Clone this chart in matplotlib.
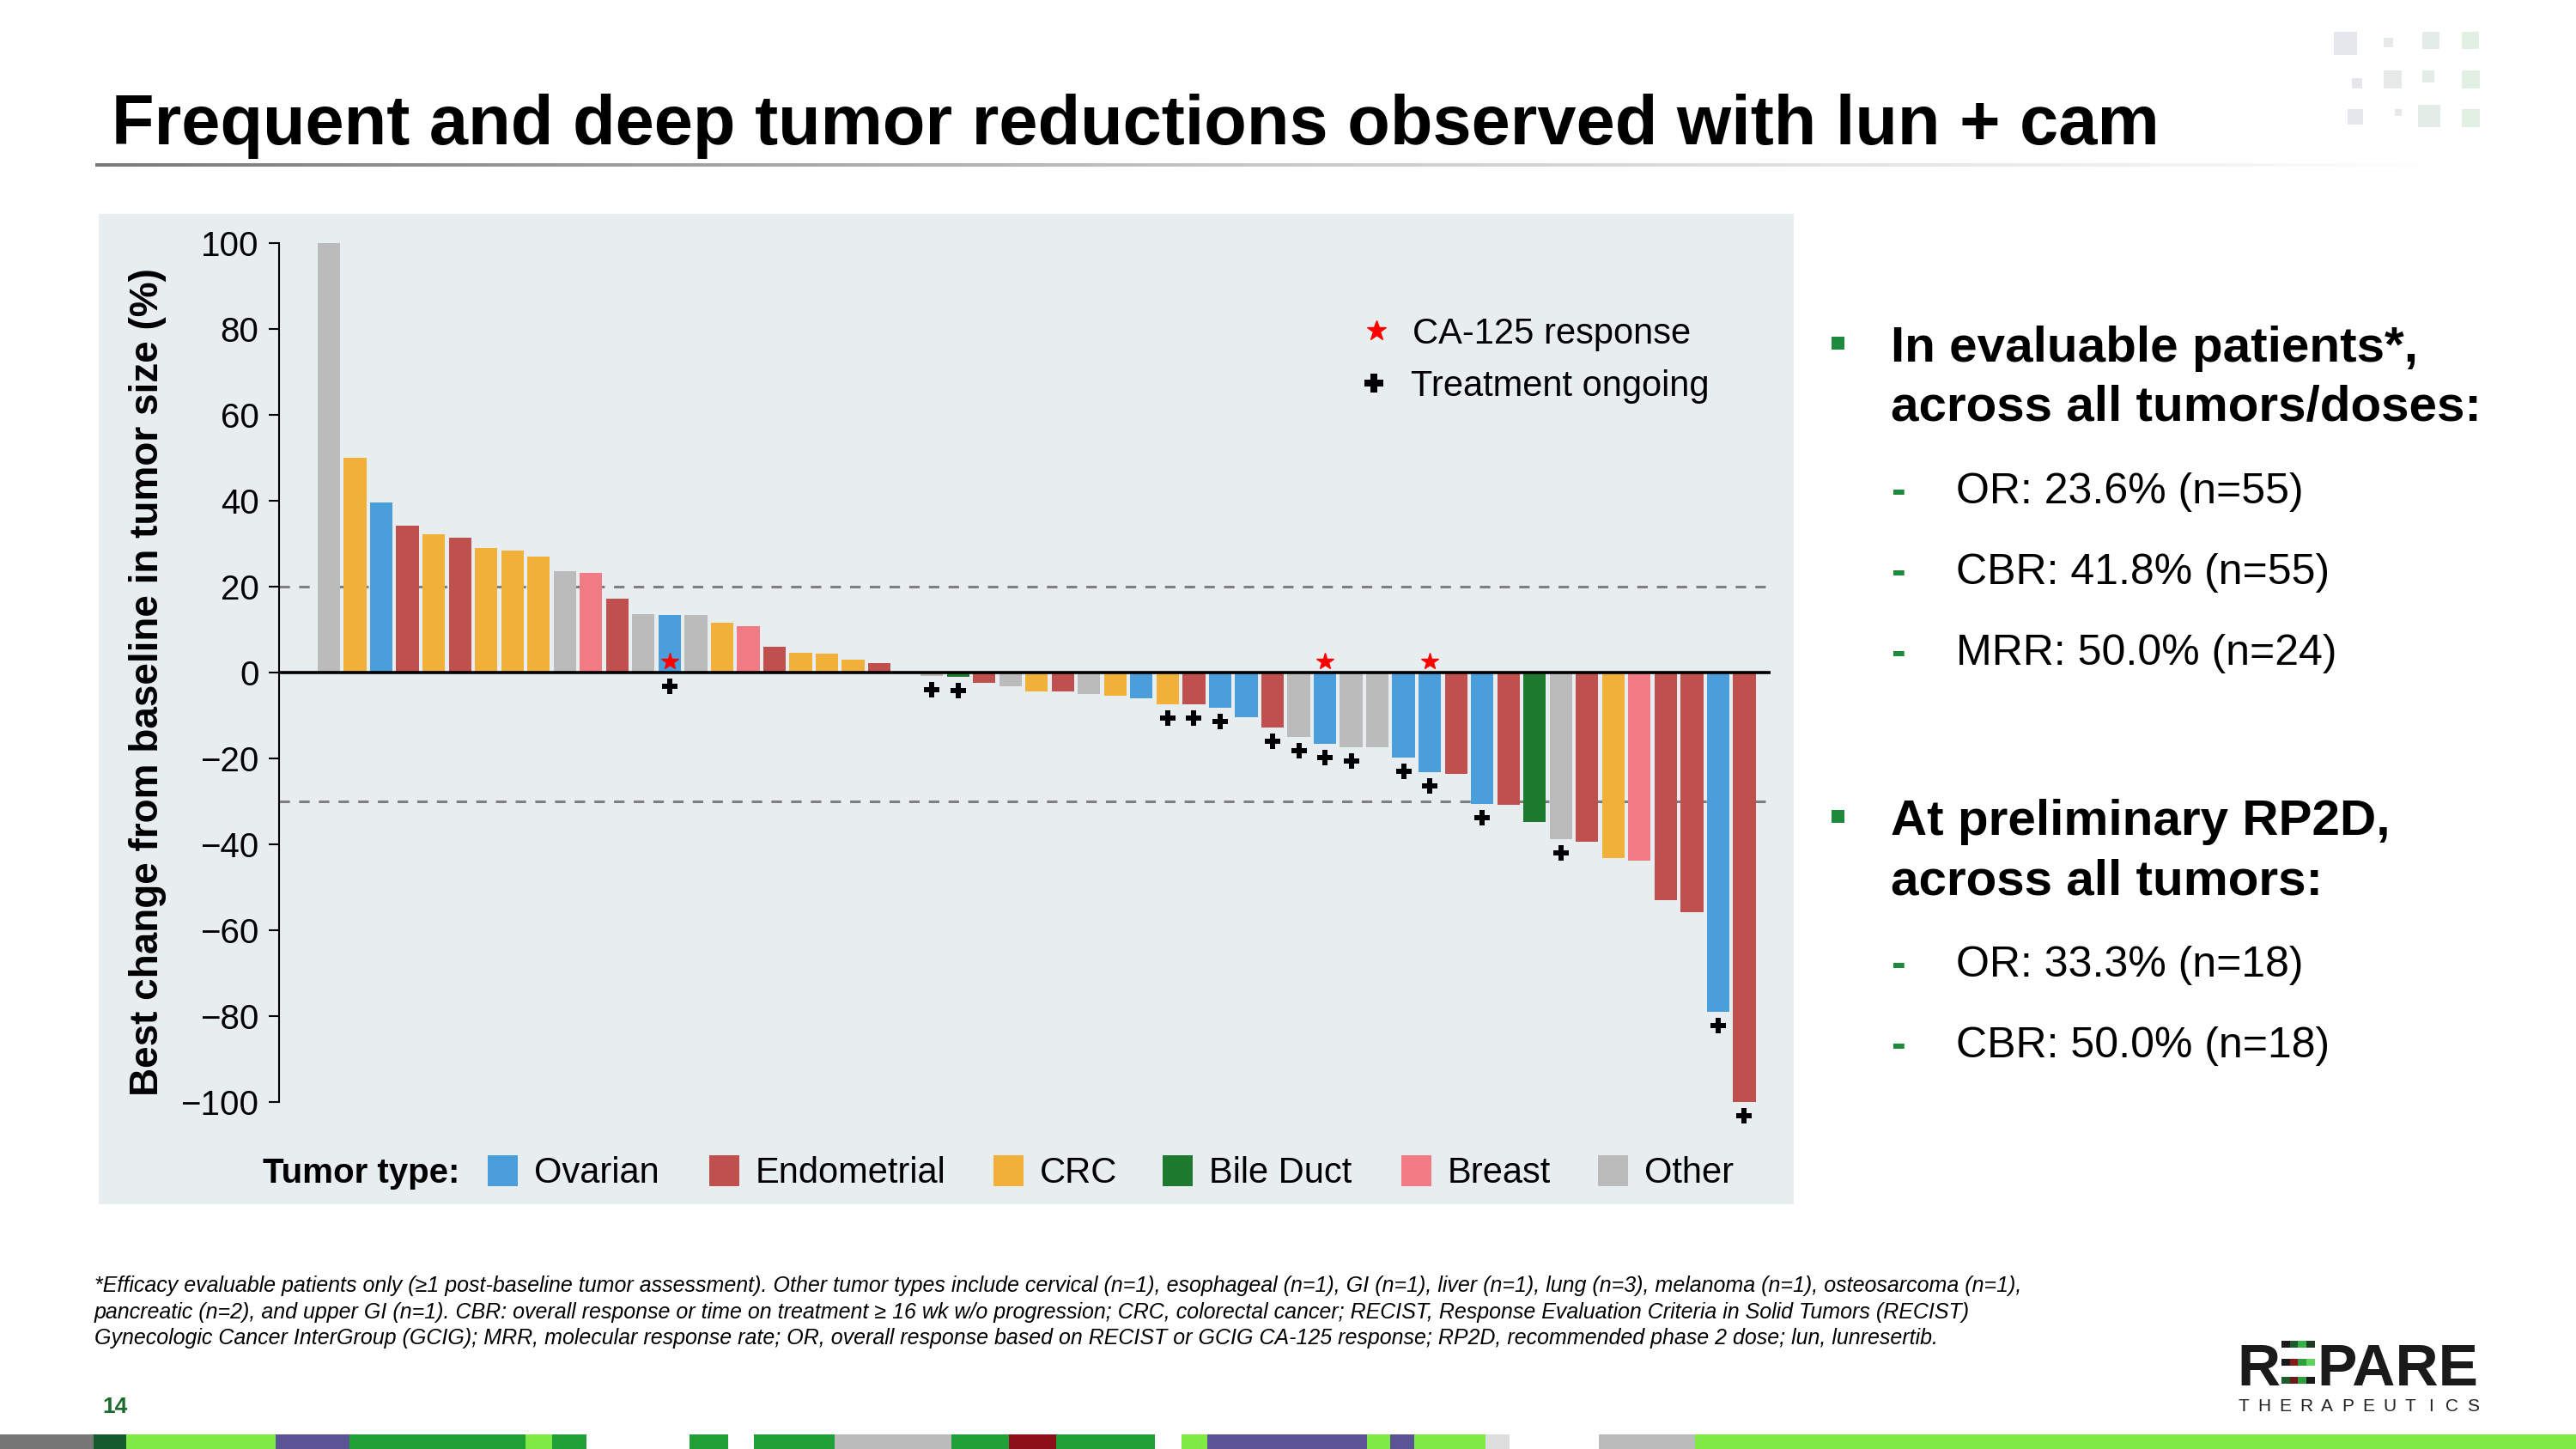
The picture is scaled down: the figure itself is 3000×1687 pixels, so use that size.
import matplotlib.pyplot as plt
import numpy as np
from matplotlib.patches import Rectangle
from matplotlib.colors import LinearSegmentedColormap

plt.rcParams['font.family'] = ['Liberation Sans', 'DejaVu Sans']

W, H = 3000, 1687

# best change from baseline, one bar per patient (sorted)
change = [100, 50.0, 39.6, 34.2, 32.3, 31.4, 29.0, 28.5, 27.0, 23.7, 23.2, 17.3, 13.7, 13.5,
          13.5, 11.7, 10.9, 6.1, 4.7, 4.5, 3.1, 2.3, 0.0, -0.7, -0.9, -2.3, -3.1, -4.3, -4.3,
          -4.9, -5.3, -5.9, -7.3, -7.3, -8.1, -10.3, -12.7, -14.9, -16.6, -17.4, -17.4, -19.8,
          -23.1, -23.6, -30.6, -30.8, -34.8, -38.8, -39.4, -43.1, -43.7, -53.0, -55.7, -78.9, -100]
tumor = ['Other', 'CRC', 'Ovarian', 'Endometrial', 'CRC', 'Endometrial', 'CRC', 'CRC', 'CRC',
         'Other', 'Breast', 'Endometrial', 'Other', 'Ovarian', 'Other', 'CRC', 'Breast',
         'Endometrial', 'CRC', 'CRC', 'CRC', 'Endometrial', 'Other', 'Other', 'Bile Duct',
         'Endometrial', 'Other', 'CRC', 'Endometrial', 'Other', 'CRC', 'Ovarian', 'CRC',
         'Endometrial', 'Ovarian', 'Ovarian', 'Endometrial', 'Other', 'Ovarian', 'Other', 'Other',
         'Ovarian', 'Ovarian', 'Endometrial', 'Ovarian', 'Endometrial', 'Bile Duct', 'Other',
         'Endometrial', 'CRC', 'Breast', 'Endometrial', 'Endometrial', 'Ovarian', 'Endometrial']
# patient numbers (1 = leftmost bar)
ca125 = [14, 39, 43]
ongoing = [14, 24, 25, 33, 34, 35, 37, 38, 39, 40, 42, 43, 45, 48, 54, 55]

type_names = ['Ovarian', 'Endometrial', 'CRC', 'Bile Duct', 'Breast', 'Other']
type_colors = ['#4A9EDC', '#C0504D', '#F0B03A', '#1E7A2E', '#F27A85', '#BBBBBB']

bullet1 = ['In evaluable patients*,', 'across all tumors/doses:']
summary1 = ['OR: 23.6% (n=55)', 'CBR: 41.8% (n=55)', 'MRR: 50.0% (n=24)']
bullet2 = ['At preliminary RP2D,', 'across all tumors:']
summary2 = ['OR: 33.3% (n=18)', 'CBR: 50.0% (n=18)']

footnote = [
    '*Efficacy evaluable patients only (≥1 post-baseline tumor assessment). Other tumor types include cervical (n=1), '
    'esophageal (n=1), GI (n=1), liver (n=1), lung (n=3), melanoma (n=1), osteosarcoma (n=1),',
    'pancreatic (n=2), and upper GI (n=1). CBR: overall response or time on treatment ≥ 16 wk w/o progression; '
    'CRC, colorectal cancer; RECIST, Response Evaluation Criteria in Solid Tumors (RECIST)',
    'Gynecologic Cancer InterGroup (GCIG); MRR, molecular response rate; OR, overall response based on RECIST or '
    'GCIG CA-125 response; RP2D, recommended phase 2 dose; lun, lunresertib.',
]

GREEN = '#1E8A3C'


def fx(px):
    return px / W


def fy(py):
    return 1 - py / H


def rect(fig, x0, y0, x1, y1, color, z=1):
    fig.add_artist(Rectangle((fx(x0), fy(y1)), (x1 - x0) / W, (y1 - y0) / H,
                             transform=fig.transFigure, facecolor=color, lw=0, zorder=z))


fig = plt.figure(figsize=(30, 16.87), dpi=100)

# title + fading underline
fig.text(fx(130), fy(168), 'Frequent and deep tumor reductions observed with lun + cam',
         fontsize=58.5, fontweight='bold', va='baseline', ha='left')
lax = fig.add_axes([fx(111), fy(194), (2850 - 111) / W, 4 / H])
grad = LinearSegmentedColormap.from_list('g', ['#7a7a7a', '#c8c8c8', '#ffffff'])
lax.imshow(np.linspace(0, 1, 256)[None, :], cmap=grad, aspect='auto')
lax.axis('off')

# top-right decoration
deco = [(2718, 37, 27, '#E6E7EC'), (2776, 44, 11, '#E5EAE8'), (2821, 37, 20, '#E4ECE7'), (2867, 37, 20, '#E2F0E4'),
        (2739, 91, 12, '#E6E7EC'), (2776, 82, 21, '#E5EAE8'), (2821, 82, 14, '#E4ECE7'), (2867, 82, 21, '#E2F0E4'),
        (2734, 127, 18, '#E6E7EC'), (2789, 127, 8, '#E5EAE8'), (2816, 122, 26, '#E4ECE7'), (2867, 127, 21, '#E2F0E4')]
for x0, y0, s, c in deco:
    rect(fig, x0, y0, x0 + s, y0 + s, c)

# chart panel
rect(fig, 115, 249, 2089, 1402, '#E8EDF0', z=-1)

ax = fig.add_axes([fx(325), fy(1283.3), (2062 - 325) / W, 1000 / H])
ax.set_facecolor('none')
x = np.arange(len(change))
colors = [type_colors[type_names.index(t)] for t in tumor]
ax.bar(x, change, width=0.86, color=colors, zorder=2)
ax.axhline(0, color='black', lw=2.6, zorder=3)
for ref in (20, -30):
    ax.axhline(ref, color='#7f7f7f', lw=2.2, ls=(0, (4, 3.5)), zorder=1)

sx = [i - 1 for i in ca125]
ax.plot(sx, [2.7] * len(sx), ls='none', marker='*', ms=15, color='red', zorder=4, clip_on=False)
px = [i - 1 for i in ongoing]
py = [min(change[i], 0) - 3.2 for i in px]
ax.plot(px, py, ls='none', marker='P', ms=13, color='black', mew=0, zorder=4, clip_on=False)

ax.set_xlim(-1.9, 55.0)
ax.set_ylim(-100, 100)
for s in ('top', 'right', 'bottom'):
    ax.spines[s].set_visible(False)
ax.spines['left'].set_linewidth(1.5)
ax.set_xticks([])
ax.set_yticks(range(-100, 101, 20))
ax.tick_params(axis='y', length=9, width=1.5, pad=8, labelsize=29)

fig.text(fx(172), fy(794), 'Best change from baseline in tumor size (%)', rotation=90,
         fontsize=33, fontweight='bold', ha='center', va='center')

# marker key
fig.add_artist(plt.Line2D([fx(1603)], [fy(385)], marker='*', ms=17, color='red', ls='none',
                          transform=fig.transFigure))
fig.add_artist(plt.Line2D([fx(1600)], [fy(446)], marker='P', ms=16, color='black', mew=0, ls='none',
                          transform=fig.transFigure))
fig.text(fx(1645), fy(400), 'CA-125 response', fontsize=30, va='baseline')
fig.text(fx(1643), fy(461), 'Treatment ongoing', fontsize=30, va='baseline')

# tumor type key
fig.text(fx(306), fy(1377), 'Tumor type:', fontsize=29, fontweight='bold', va='baseline')
key_x = [568, 826, 1157, 1354, 1632, 1861]
for kx, name, c in zip(key_x, type_names, type_colors):
    rect(fig, kx, 1345, kx + 35, 1381, c)
    fig.text(fx(kx + 54), fy(1377), name, fontsize=30, va='baseline')

# right-hand summary
def bullet_block(top_baseline, heads, items):
    rect(fig, 2133, top_baseline - 29, 2148, top_baseline - 14, GREEN)
    for k, line in enumerate(heads):
        fig.text(fx(2202), fy(top_baseline + 69 * k), line, fontsize=42, fontweight='bold', va='baseline')
    for k, line in enumerate(items):
        b = top_baseline + 165 + 94 * k
        fig.text(fx(2203), fy(b), '-', fontsize=36, color=GREEN, fontweight='bold', va='baseline')
        fig.text(fx(2278), fy(b), line, fontsize=36, va='baseline')


bullet_block(421, bullet1, summary1)
bullet_block(972, bullet2, summary2)

# footnote and page number
for k, line in enumerate(footnote):
    fig.text(fx(110), fy(1504 + 30.5 * k), line, fontsize=18, style='italic', va='baseline')
fig.text(fx(119), fy(1645), '14', fontsize=19, fontweight='bold', color='#1E6B30', va='baseline')

# logo
fig.text(fx(2605), fy(1613), 'R', fontsize=50, fontweight='bold', color='#1a1a1a', va='baseline')
fig.text(fx(2886), fy(1613), 'PARE', fontsize=50, fontweight='bold', color='#1a1a1a', va='baseline', ha='right')
stripes = [(1561, ['#1a1a1a', '#1f5c2a', '#38b04a', '#1f3d25']),
           (1582, ['#1a1a1a', '#8a1a1a', '#2e9e3e', '#5fd35a']),
           (1603, ['#1f5c2a', '#6a1a1a', '#2e9e3e', '#1a1a1a'])]
for y0, cols in stripes:
    for j, c in enumerate(cols):
        rect(fig, 2657 + 9.7 * j, y0, 2657 + 9.7 * (j + 1), y0 + 8, c)
for j, ch in enumerate('THERAPEUTICS'):
    fig.text(fx(2613 + j * (2880 - 2613) / 11), fy(1643), ch, fontsize=15, color='#222222',
             ha='center', va='baseline')

# bottom colour strip
strip = [(0, 109, '#777777'), (109, 147, '#145C2E'), (147, 321, '#80EA45'), (321, 407, '#5B5494'),
         (407, 612, '#22A038'), (612, 643, '#80EA45'), (643, 683, '#22A038'), (803, 848, '#22A038'),
         (878, 972, '#22A038'), (972, 1108, '#BBBBBB'), (1108, 1175, '#22A038'), (1175, 1230, '#8B1018'),
         (1230, 1345, '#22A038'), (1376, 1406, '#80EA45'), (1406, 1592, '#5B5494'), (1592, 1619, '#80EA45'),
         (1619, 1647, '#5B5494'), (1647, 1730, '#80EA45'), (1730, 1758, '#DDDDDD'), (1862, 1974, '#BBBBBB'),
         (1974, 3000, '#80EA45')]
for x0, x1, c in strip:
    rect(fig, x0, 1670, x1, 1687, c)

fig.savefig('out.png', dpi=100)
